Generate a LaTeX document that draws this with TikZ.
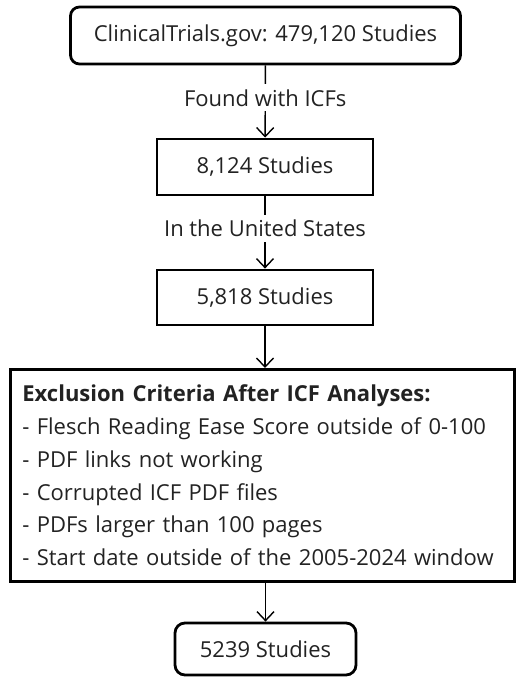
\documentclass[tikz,border=0pt]{standalone}
\usepackage{fontspec}
\setmainfont{Open Sans}
\usetikzlibrary{arrows.meta,positioning}
\definecolor{inkgray}{HTML}{222222}

\begin{document}
\begin{tikzpicture}[
    % One unit is one pixel of the 518x678 canvas, y grows downwards.
    x={(1pt,0pt)},
    y={(0pt,-1pt)},
    font=\fontsize{22}{26}\selectfont
]
    % --- Style Definitions ---
    % 'stage' boxes are square, 'endstage' boxes are rounded.
    % 'flow' is the thin arrow, 'filter' is the label that breaks it.
    \tikzstyle{stage} = [draw, line width=2.8pt, inner sep=0pt, text=inkgray]
    \tikzstyle{endstage} = [stage, rounded corners=9pt]
    \tikzstyle{flow} = [draw, line width=1.4pt, -{Straight Barb[length=9pt,width=17pt,line width=1.4pt]}]
    \tikzstyle{filter} = [fill=white, text=inkgray, inner xsep=2pt, inner ysep=5pt]

    \useasboundingbox (0,0) rectangle (518,678);

    % --- Boxes ---
    \node[endstage, minimum width=390, minimum height=57] (registry) at (265.5,35.5) {ClinicalTrials.gov: 479,120 Studies};
    \node[stage, minimum width=216, minimum height=56] (withicf) at (265,167) {8,124 Studies};
    \node[stage, minimum width=216, minimum height=55] (usonly) at (265,297.5) {5,818 Studies};
    \node[stage, anchor=north west, minimum width=504, minimum height=212,
          text width=480, inner xsep=12pt, align=left,
          font=\fontsize{22}{32.7}\selectfont] (exclusion) at (9,368)
        {\textbf{Exclusion Criteria After ICF Analyses:}\\
         - Flesch Reading Ease Score outside of 0-100\\
         - PDF links not working\\
         - Corrupted ICF PDF files\\
         - PDFs larger than 100 pages\\
         - Start date outside of the 2005-2024 window};
    \node[endstage, rounded corners=10pt, minimum width=181, minimum height=52] (final) at (265.5,649) {5239 Studies};

    % --- Connectors ---
    \draw[flow] (registry) -- node[filter, pos=0.45] {Found with ICFs} (withicf);
    \draw[flow] (withicf) -- node[filter, pos=0.44] {In the United States} (usonly);
    \draw[flow] (usonly) -- (usonly |- exclusion.north);
    \draw[flow] (final |- exclusion.south) -- (final);
\end{tikzpicture}
\end{document}
